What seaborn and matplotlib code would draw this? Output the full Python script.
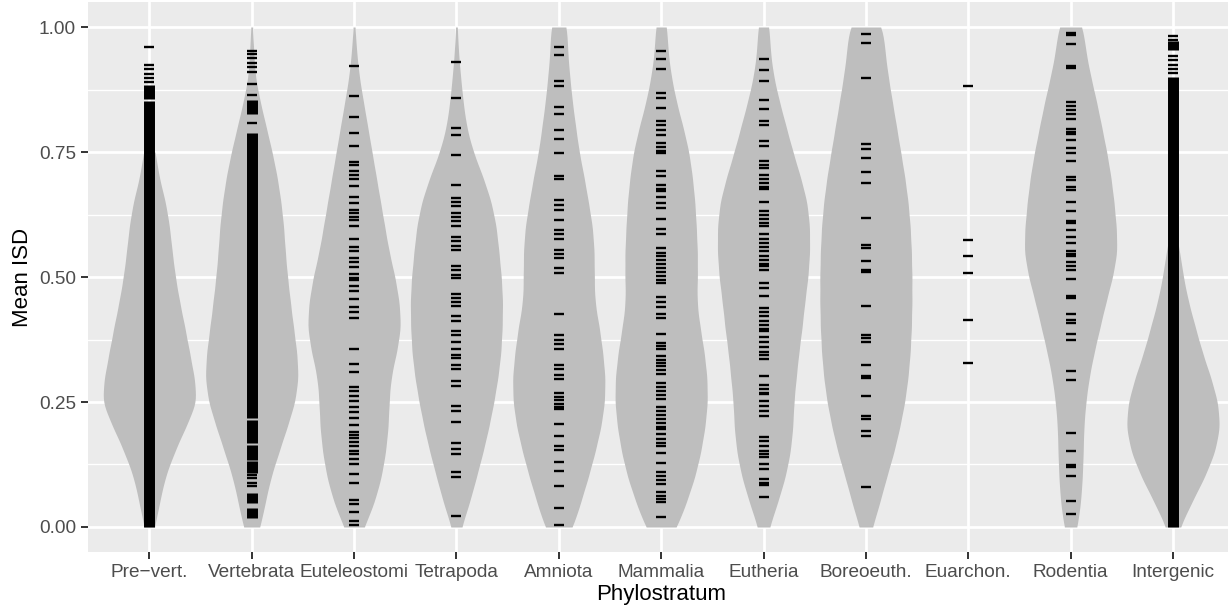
import numpy as np
import pandas as pd
import seaborn as sns
import matplotlib.pyplot as plt
from matplotlib.ticker import MultipleLocator

categories = ["Pre\u2212vert.", "Vertebrata", "Euteleostomi", "Tetrapoda", "Amniota",
              "Mammalia", "Eutheria", "Boreoeuth.", "Euarchon.", "Rodentia", "Intergenic"]

# y levels at which the violin widths were read (bottom -> top)
levels = [0.00, 0.05, 0.10, 0.15, 0.20, 0.25, 0.30, 0.35, 0.40, 0.45, 0.50,
          0.55, 0.60, 0.65, 0.70, 0.75, 0.80, 0.85, 0.90, 0.95, 1.00]

# relative violin widths at each level
w_prevert = [30, 60, 90, 145, 210, 277, 260, 232, 205, 175, 150, 132, 117, 94, 55, 35, 0, 0, 0, 0, 0]
w_vertebrata = [50, 80, 112, 160, 208, 255, 275, 265, 245, 227, 210, 197, 188, 172, 150, 120, 85, 50, 20, 12, 5]
w_euteleostomi = [60, 120, 160, 185, 200, 205, 215, 250, 275, 265, 240, 205, 180, 155, 130, 105, 80, 55, 30, 15, 5]
w_tetrapoda = [30, 80, 120, 160, 195, 225, 250, 268, 275, 278, 270, 255, 240, 210, 160, 100, 60, 40, 25, 12, 5]
w_amniota = [85, 130, 175, 215, 250, 272, 275, 260, 240, 212, 210, 210, 200, 175, 150, 120, 100, 80, 65, 52, 50]
w_mammalia = [95, 150, 200, 235, 260, 275, 272, 255, 230, 210, 215, 215, 208, 200, 185, 165, 130, 90, 60, 40, 35]
w_eutheria = [35, 85, 130, 160, 175, 180, 195, 210, 230, 245, 265, 275, 275, 260, 220, 175, 135, 95, 60, 40, 35]
w_boreoeuth = [40, 85, 125, 170, 205, 235, 255, 268, 275, 278, 278, 275, 268, 255, 235, 210, 185, 160, 135, 115, 105]
w_rodentia = [40, 60, 70, 75, 78, 90, 110, 140, 175, 210, 250, 278, 272, 258, 240, 215, 185, 155, 120, 90, 75]
w_intergenic = [40, 110, 185, 245, 275, 262, 220, 170, 130, 90, 60, 40, 10, 0, 0, 0, 0, 0, 0, 0, 0]

# single dashes (mean ISD values)
t_prevert = [0.961, 0.925, 0.916, 0.907, 0.899, 0.891]
t_vertebrata = [0.952, 0.946, 0.938, 0.928, 0.920, 0.910, 0.887, 0.864, 0.809,
                0.104, 0.097, 0.087, 0.082]
t_euteleostomi = [0.922, 0.862, 0.821, 0.789, 0.763, 0.731, 0.724, 0.712, 0.704, 0.697,
                  0.682, 0.661, 0.649, 0.635, 0.628, 0.621, 0.615, 0.602, 0.577, 0.561,
                  0.553, 0.539, 0.531, 0.521, 0.507, 0.499, 0.495, 0.482, 0.473, 0.457,
                  0.440, 0.431, 0.419, 0.357, 0.326, 0.311, 0.280, 0.273, 0.262, 0.253,
                  0.241, 0.231, 0.219, 0.204, 0.191, 0.184, 0.178, 0.171, 0.161, 0.152,
                  0.145, 0.135, 0.126, 0.105, 0.087, 0.054, 0.045, 0.029, 0.012, 0.004]
t_tetrapoda = [0.931, 0.859, 0.799, 0.784, 0.744, 0.684, 0.659, 0.650, 0.643, 0.629,
               0.621, 0.612, 0.603, 0.580, 0.573, 0.562, 0.555, 0.522, 0.515, 0.505,
               0.498, 0.467, 0.459, 0.451, 0.443, 0.422, 0.413, 0.393, 0.384, 0.371,
               0.357, 0.345, 0.338, 0.325, 0.316, 0.293, 0.282, 0.242, 0.233, 0.211,
               0.169, 0.155, 0.146, 0.109, 0.099, 0.022]
t_amniota = [0.961, 0.945, 0.892, 0.882, 0.841, 0.827, 0.795, 0.776, 0.749, 0.702,
             0.696, 0.654, 0.644, 0.634, 0.614, 0.595, 0.586, 0.577, 0.555, 0.547,
             0.538, 0.519, 0.508, 0.427, 0.385, 0.375, 0.366, 0.357, 0.325, 0.316,
             0.305, 0.296, 0.268, 0.261, 0.254, 0.247, 0.240, 0.236, 0.206, 0.182,
             0.162, 0.154, 0.129, 0.111, 0.081, 0.037, 0.004]
t_mammalia = [0.953, 0.937, 0.917, 0.869, 0.859, 0.839, 0.812, 0.804, 0.795, 0.784,
              0.769, 0.761, 0.753, 0.749, 0.713, 0.703, 0.685, 0.677, 0.673, 0.661,
              0.649, 0.639, 0.617, 0.597, 0.587, 0.559, 0.549, 0.542, 0.534, 0.526,
              0.518, 0.510, 0.502, 0.494, 0.489, 0.461, 0.451, 0.441, 0.427, 0.419,
              0.386, 0.369, 0.362, 0.356, 0.342, 0.335, 0.328, 0.323, 0.314, 0.307,
              0.289, 0.281, 0.273, 0.265, 0.256, 0.241, 0.232, 0.224, 0.216, 0.208,
              0.200, 0.196, 0.187, 0.177, 0.167, 0.161, 0.147, 0.127, 0.109, 0.101,
              0.093, 0.086, 0.069, 0.061, 0.056, 0.049, 0.019]
t_eutheria = [0.937, 0.915, 0.893, 0.854, 0.837, 0.812, 0.804, 0.772, 0.763, 0.732,
              0.725, 0.719, 0.705, 0.697, 0.689, 0.681, 0.676, 0.651, 0.632, 0.624,
              0.616, 0.608, 0.603, 0.587, 0.577, 0.569, 0.561, 0.552, 0.543, 0.535,
              0.527, 0.523, 0.515, 0.489, 0.479, 0.462, 0.439, 0.431, 0.423, 0.413,
              0.405, 0.397, 0.393, 0.381, 0.371, 0.361, 0.351, 0.344, 0.337, 0.302,
              0.285, 0.277, 0.269, 0.266, 0.252, 0.242, 0.232, 0.223, 0.180, 0.173,
              0.161, 0.152, 0.145, 0.139, 0.125, 0.115, 0.095, 0.088, 0.083, 0.059]
t_boreoeuth = [0.987, 0.969, 0.899, 0.766, 0.757, 0.739, 0.711, 0.689, 0.619, 0.565,
               0.559, 0.533, 0.515, 0.511, 0.443, 0.385, 0.379, 0.371, 0.324, 0.303,
               0.299, 0.263, 0.222, 0.217, 0.193, 0.182, 0.079]
t_euarchon = [0.882, 0.575, 0.542, 0.509, 0.414, 0.329]
t_rodentia = [0.989, 0.984, 0.966, 0.923, 0.919, 0.851, 0.842, 0.834, 0.826, 0.817,
              0.797, 0.791, 0.786, 0.774, 0.759, 0.749, 0.733, 0.701, 0.695, 0.680,
              0.675, 0.651, 0.633, 0.612, 0.608, 0.594, 0.581, 0.569, 0.552, 0.547,
              0.543, 0.531, 0.523, 0.514, 0.497, 0.462, 0.459, 0.426, 0.415, 0.408,
              0.387, 0.374, 0.313, 0.294, 0.189, 0.152, 0.123, 0.119, 0.101, 0.051, 0.026]
t_intergenic = [0.982, 0.975, 0.943, 0.934, 0.925, 0.917, 0.909]

# dense stretches where the dashes merge into one solid bar (low, high)
r_prevert = [(0.856, 0.885), (0.0, 0.852)]
r_vertebrata = [(0.827, 0.854), (0.218, 0.789), (0.167, 0.214), (0.134, 0.164),
                (0.107, 0.131), (0.047, 0.067), (0.017, 0.037)]
r_intergenic = [(0.955, 0.972), (0.0, 0.901)]

widths = dict(zip(categories, [w_prevert, w_vertebrata, w_euteleostomi, w_tetrapoda, w_amniota,
                               w_mammalia, w_eutheria, w_boreoeuth, None, w_rodentia, w_intergenic]))
dashes = dict(zip(categories, [t_prevert, t_vertebrata, t_euteleostomi, t_tetrapoda, t_amniota,
                               t_mammalia, t_eutheria, t_boreoeuth, t_euarchon, t_rodentia, t_intergenic]))
runs = {categories[0]: r_prevert, categories[1]: r_vertebrata, categories[10]: r_intergenic}

# violin data: each level repeated by its read width
vio = []
for cat in categories:
    if widths[cat] is None:
        continue
    vals = np.repeat(levels, widths[cat])
    vio.append(pd.DataFrame({"stratum": cat, "isd": vals}))
vio = pd.concat(vio, ignore_index=True)

rug = pd.concat([pd.DataFrame({"stratum": c, "isd": dashes[c]}) for c in categories],
                ignore_index=True)


# same absolute kernel width for every violin
def fixed_bw(kde):
    return 0.03 / np.std(kde.dataset, ddof=1)


sns.set_theme(style="darkgrid", rc={"axes.facecolor": "#EBEBEB", "grid.color": "white"})
plt.rcParams['font.family'] = ['Liberation Sans', 'DejaVu Sans']

fig = plt.figure(figsize=(12.28, 6.09), dpi=100)
ax = fig.add_axes([0.0716, 0.0936, 0.9336, 0.9031])

sns.violinplot(data=vio, x="stratum", y="isd", order=categories, color="#BEBEBE",
               saturation=1, linewidth=0, inner=None, cut=0, density_norm="width",
               width=0.9, bw_method=fixed_bw, ax=ax)

for cat, rr in runs.items():
    i = categories.index(cat)
    for lo, hi in rr:
        ax.vlines(i, lo, hi, color="black", linewidth=7.9, zorder=3)

sns.stripplot(data=rug, x="stratum", y="isd", order=categories, jitter=False,
              marker="_", color="black", size=7.9, linewidth=1.7, ax=ax)

ax.set_xlim(-0.6, len(categories) - 0.4)
ax.set_ylim(-0.05, 1.05)
ax.set_yticks([0, 0.25, 0.5, 0.75, 1.0])
ax.set_yticklabels(["0.00", "0.25", "0.50", "0.75", "1.00"])
ax.yaxis.set_minor_locator(MultipleLocator(0.125))
ax.grid(which="major", color="white", linewidth=2.0)
ax.grid(which="minor", axis="y", color="white", linewidth=1.0)
ax.set_axisbelow(True)
for s in ax.spines.values():
    s.set_visible(False)

ax.tick_params(axis="both", which="major", length=5, width=1.4, color="#333333",
               labelsize=13.7, labelcolor="#4D4D4D", pad=3.5, bottom=True, left=True)
ax.tick_params(axis="y", which="minor", length=0)
ax.set_xlabel("Phylostratum", fontsize=16, color="black", labelpad=2)
ax.set_ylabel("Mean ISD", fontsize=16, color="black", labelpad=4)

fig.savefig("out.png", dpi=100)
